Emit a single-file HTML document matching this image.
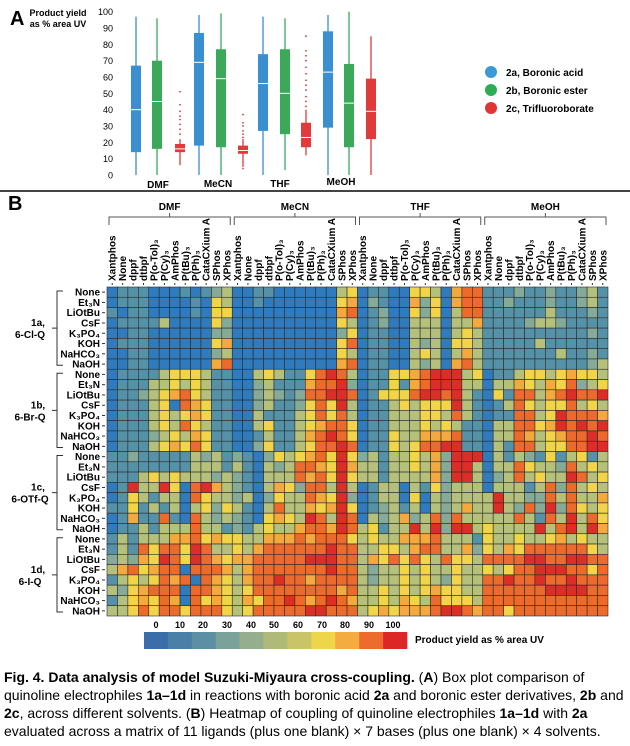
<!DOCTYPE html>
<html><head><meta charset="utf-8"><style>
body{margin:0;background:#fff;width:630px;height:746px;overflow:hidden}
svg{display:block;font-family:"Liberation Sans",sans-serif}
</style></head><body>
<svg id="s" width="630" height="746" xmlns="http://www.w3.org/2000/svg">
<text x="10" y="25" font-size="20" font-weight="bold">A</text>
<text x="58" y="16" font-size="9" font-weight="bold" text-anchor="middle">Product yield</text>
<text x="58" y="27" font-size="9" font-weight="bold" text-anchor="middle">as % area  UV</text>
<line x1="0" y1="191" x2="630" y2="191" stroke="#444" stroke-width="2"/>
<text x="8" y="210" font-size="20" font-weight="bold">B</text>
<g font-size="10" font-weight="bold">
<text x="158" y="188" text-anchor="middle">DMF</text>
<text x="218" y="187" text-anchor="middle">MeCN</text>
<text x="280" y="187" text-anchor="middle">THF</text>
<text x="341" y="185" text-anchor="middle">MeOH</text>
<circle cx="491" cy="72" r="6" fill="#3a9ad8"/><text x="506" y="76">2a, Boronic acid</text>
<circle cx="491" cy="90" r="6" fill="#2eab55"/><text x="506" y="94">2b, Boronic ester</text>
<circle cx="491" cy="108" r="6" fill="#e03535"/><text x="506" y="112">2c, Trifluoroborate</text>
</g>
<g id="box"></g>
<g id="hm"></g>
<g font-size="14">
<text x="4" y="682"><tspan font-weight="bold">Fig. 4. Data analysis of model Suzuki-Miyaura cross-coupling.</tspan> (<tspan font-weight="bold">A</tspan>) Box plot comparison of</text>
<text x="4" y="700">quinoline electrophiles <tspan font-weight="bold">1a–1d</tspan> in reactions with boronic acid <tspan font-weight="bold">2a</tspan> and boronic ester derivatives, <tspan font-weight="bold">2b</tspan> and</text>
<text x="4" y="718"><tspan font-weight="bold">2c</tspan>, across different solvents. (<tspan font-weight="bold">B</tspan>) Heatmap of coupling of quinoline electrophiles <tspan font-weight="bold">1a–1d</tspan> with <tspan font-weight="bold">2a</tspan></text>
<text x="4" y="736">evaluated across a matrix of 11 ligands (plus one blank) × 7 bases (plus one blank) × 4 solvents.</text>
</g>
</svg>
<script>
const NS="http://www.w3.org/2000/svg",S=document.getElementById('s');
function el(t,a,p,txt){const e=document.createElementNS(NS,t);for(const k in a)e.setAttribute(k,a[k]);if(txt!=null)e.textContent=txt;(p||S).appendChild(e);return e;}
const bx=document.getElementById('box');
const Y=v=>175-v*1.633;
for(let v=0;v<=100;v+=10)el('text',{x:113,y:Y(v)+3.5,'font-size':9,'text-anchor':'end'},bx,v);
const boxes=[[136,'#3a8fd0',0,97,14,40,67],[157,'#3aaa5a',0,96,16,45,70],[180,'#e03a3a',6,22,14,16,19,[25,28,31,34,36,39,43,51]],
[199,'#3a8fd0',0,98,18,69,87],[221,'#3aaa5a',0,99,17,59,77],[243,'#e03a3a',5,22,13,15,18,[4,23,25,27,30,32,37]],
[263,'#3a8fd0',0,97,27,56,74],[285,'#3aaa5a',3,96,25,50,77],[306,'#e03a3a',12,40,17,23,32,[42,45,48,52,55,58,62,66,70,73,76,85]],
[328,'#3a8fd0',0,98,29,63,88],[349,'#3aaa5a',0,100,17,44,68],[371,'#e03a3a',0,85,22,39,59]];
boxes.forEach(b=>{const[x,c,lo,hi,q1,m,q3,o]=b;
el('line',{x1:x,x2:x,y1:Y(lo),y2:Y(hi),stroke:c,'stroke-width':1.3},bx);
el('rect',{x:x-5,y:Y(q3),width:10,height:Y(q1)-Y(q3),fill:c},bx);
el('line',{x1:x-5,x2:x+5,y1:Y(m),y2:Y(m),stroke:'#fff','stroke-width':1},bx);
(o||[]).forEach(v=>el('circle',{cx:x,cy:Y(v),r:0.9,fill:c},bx));});
const hm=document.getElementById('hm');
const P={B:'#2f7bbd',T:'#5592a8',G:'#86aa98',L:'#b5c07a',Y:'#f1d448',A:'#f3a93e',O:'#eb6a2c',R:'#dc2e27'};
const rows=[
"BTTTBBBTBTGLBBTTBBBBBBLY"+"BTTBBYYLBAOOTTTGTTGTTGLT",
"BTTTBBBBTBYLBBTBBBBBBBYA"+"BGTBBAGYBAOOTTGTTTGTTGLT",
"TBTTBBBBTBYYBBBBBBBBBBAO"+"BTGBBYGYBLOOTTTTTTLTTTGT",
"BTTTTLBBBBYGBBBBBBBBBBYL"+"BTGBBLLLBLLATTTTGLLGTTTT",
"BBTTBBBBBBGGBBBBBBBBBBGY"+"BTTBBLLLBLYLTTTTTTTTTTGT",
"BTTTBBBBBBYABBBBBBBBBBYO"+"BTTBBLGLBYYLTTTTTLTTTTTT",
"BBTTBBBBBBGLBBBBBBBBBBYL"+"BTTBBLYLBLALTTTTTTTLTTGT",
"BBTTBBBBBBAOBBBBBBBBBBAO"+"BTTBBLGLBAOLTTTTTTTTTTGL",
"BTTTTLYYYLTTBBLYLTTYOROL"+"BTTYYAORRRLYBTTLYYLYAYYL",
"BTTTLLYLYLTTBBGLTTTAOORG"+"BTTYTAORRRLLBLLAYLAYOGLY",
"BTTGLYAOYLTTBBGLGTGOORRO"+"BTYYYORRORLTBYTOOLAOROOR",
"BTTTLYBOAYTTBBGLTTGYOYRL"+"BTTLYLYYYRLTBTLOYLYYOLYL",
"BTTTLYLYAYTTBBLTTTLYOYOL"+"BTTLLLYYLOLTBTTOOLYROOOA",
"BTTTLYLOYLTTBBLYTTLYAOOY"+"BTTLLLYLYLTTBLLOOYAROROR",
"BTTTGLYLAYTTBBTLTTLAOROY"+"BTTYLLAAAOTTBLLOALYAOORO",
"BTTTLYAYOYTTBBGYTTLYOORO"+"BTTYLYOORRTTBLTOOLYYOORR",
"TTGTTTTTLGLTGTBGYLYAOYRY"+"GLTLLYLAGRRRBLTLGTYTLYTL",
"TTTTTTTTLLLTLTBLGLOOAYRA"+"LLTLLYLAGRRLBLLOYLLGOLYL",
"TTTLYLYLLLGLGTBLLLOAOYRY"+"LLTLLLLAGRRLBGLOLYLLROLY",
"BTRLLRYBORALGTBLAYGOOLRL"+"BTLLBLTYGLLLBLLLTLOGOLYL",
"BTYLTLLBOYLLGLBGYLLOAYRG"+"BTLLBYBLGLLLLRLLGGOLOLLA",
"TTYTLTLBLYGYLTBLOLLAYARY"+"BTGLTLBLGLALLRLGOGRGOYLY",
"BTATTOTBOLGLGTBYAYLROLRO"+"BLGLAGLOGOLLLLLOLTOLRLOY",
"BTTLTLLLOLLTGTLYLLAOOARO"+"LYTLLRLRGRRLYLLLLRLORLRA",
"TLTLLLAAOYAYYLLAAAOAOOOY"+"LYLLAAAOLLLTYLLYLLYALYLL",
"TLTOYOOYROLLYLAOOOOOOROO"+"LLYYLAOOLLAGYLAYOOOOOOYL",
"GLGAYROYROAYAAOOOOORRROO"+"LAYOYOYLOYYLOOOORROORROO",
"LAOYAOOBOOOALAOOOOOOOROO"+"LGLLYLYLLYLLYLYOORRROOYO",
"TLYLYOAOBOAYLAOOROOAOOOO"+"LGLLYLYLGYLLOOROOROOROOO",
"LGYAOOOBOOAYLYOOOOOOOOAO"+"LLYLYLYAYYLLOOOOOORRRROO",
"TLYAYOABOYAYLAYOOROAOROA"+"LLYLAYLOYYYLOOOOOOOOOOOO",
"LLYOYOOYOOOYLYOOOOORROOO"+"LYAYAAAORROAOOYOOOOOOOOO"];
const x0=107,y0=287,cw=501/48,rh=329/32;
rows.forEach((r,i)=>{for(let j=0;j<48;j++)el('rect',{x:x0+j*cw,y:y0+i*rh,width:cw,height:rh,fill:P[r[j]]||'#888',stroke:'#2a2a2a','stroke-width':0.6},hm);});
const ligs=["Xantphos","None","dppf","dtbpf","P(o-Tol)₃","P(Cy)₃","AmPhos","P(tBu)₃","P(Ph)₃","CataCXium A","SPhos","XPhos"];
const sol=["DMF","MeCN","THF","MeOH"];
for(let s=0;s<4;s++){const xa=x0+s*12*cw+2,xb=x0+(s+1)*12*cw-2,xm=(xa+xb)/2;
el('text',{x:xm,y:210,'font-size':10,'font-weight':'bold','text-anchor':'middle'},hm,sol[s]);
el('path',{d:`M${xa} 225 V217 H${xb} V225 M${xm} 217 V213`,fill:'none',stroke:'#555','stroke-width':1},hm);
for(let k=0;k<12;k++){const cx=x0+(s*12+k+0.5)*cw;
el('text',{x:0,y:0,'font-size':10,'font-weight':'bold','text-anchor':'start',transform:`translate(${cx+3.5},281) rotate(-90)`},hm,ligs[k]);
el('line',{x1:cx,x2:cx,y1:283,y2:285,stroke:'#333'},hm);}}
const bases=["None","Et₃N","LiOtBu","CsF","K₃PO₄","KOH","NaHCO₃","NaOH"];
const grp=[["1a,","6-Cl-Q"],["1b,","6-Br-Q"],["1c,","6-OTf-Q"],["1d,","6-I-Q"]];
for(let g=0;g<4;g++){const ya=y0+g*8*rh+4,yb=y0+(g+1)*8*rh-4,ym=(ya+yb)/2;
for(let k=0;k<8;k++){const cy=y0+(g*8+k+0.5)*rh;
el('text',{x:100,y:cy+3.5,'font-size':10,'font-weight':'bold','text-anchor':'end'},hm,bases[k]);
el('line',{x1:102,x2:105,y1:cy,y2:cy,stroke:'#333'},hm);}
el('path',{d:`M63 ${ya} H57 V${yb} H63 M57 ${ym} H52`,fill:'none',stroke:'#333','stroke-width':1},hm);
el('text',{x:38,y:ym-2,'font-size':10,'font-weight':'bold','text-anchor':'middle'},hm,grp[g][0]);
el('text',{x:30,y:ym+10,'font-size':10,'font-weight':'bold','text-anchor':'middle'},hm,grp[g][1]);}
const cb=['#3b6ea8','#4a80a8','#5c8fa3','#7aa19a','#95ae8c','#b0ba78','#c9c466','#efd54a','#f4ac40','#ec6b2d','#dd2626'];
const bw=(407-144)/11;
cb.forEach((c,i)=>el('rect',{x:144+i*bw,y:632,width:bw+0.3,height:17,fill:c},hm));
[156,180,203,227,251,274,298,322,345,369,393].forEach((x,i)=>el('text',{x:x,y:628,'font-size':9,'font-weight':'bold','text-anchor':'middle'},hm,i*10));
el('text',{x:415,y:643,'font-size':10,'font-weight':'bold'},hm,"Product yield as % area UV");
</script>
</body></html>
